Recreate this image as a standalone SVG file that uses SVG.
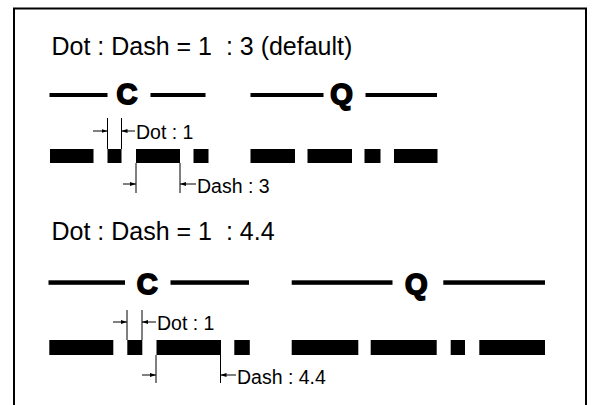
<svg xmlns="http://www.w3.org/2000/svg" width="593" height="405" viewBox="0 0 593 405">
<defs>
<style>
.title{font-family:"Liberation Sans",Arial,sans-serif;font-size:25px;fill:#000;white-space:pre}
.lbl{font-family:"Liberation Sans",Arial,sans-serif;font-size:19.5px;fill:#000;white-space:pre}
.big{font-family:"Liberation Sans",Arial,sans-serif;font-size:29px;font-weight:bold;fill:#000;stroke:#000;stroke-width:1.8;text-anchor:middle}
.ext{stroke:#000;stroke-width:1;fill:none}
.arr{stroke:#000;stroke-width:1;fill:none;marker-end:url(#ah)}
.seg{fill:#000}
</style>
<marker id="ah" viewBox="0 0 6 4" refX="6" refY="2" markerWidth="6" markerHeight="4" markerUnits="userSpaceOnUse" orient="auto">
<path d="M0,0 L6,2 L0,4 Z" fill="#000"/>
</marker>
</defs>
<rect x="0" y="0" width="593" height="405" fill="#fff"/>
<rect id="frame" x="14" y="8.5" width="572" height="420" fill="#fff" stroke="#000" stroke-width="2"/>

<g id="section1">
<text class="title" x="51.5" y="55">Dot : Dash = 1  : 3 (default)</text>
<g id="solid1">
<rect class="seg" x="49.5" y="93" width="58" height="4"/>
<text class="big" x="127" y="104">C</text>
<rect class="seg" x="150.5" y="93" width="55" height="4"/>
<rect class="seg" x="250.5" y="93" width="73" height="4"/>
<text class="big" x="341.5" y="104">Q</text>
<rect class="seg" x="365.5" y="93" width="71.5" height="4"/>
</g>
<g id="dashed1">
<rect class="seg" x="50" y="149" width="43.5" height="14"/>
<rect class="seg" x="107.5" y="149" width="14" height="14"/>
<rect class="seg" x="136" y="149" width="44" height="14"/>
<rect class="seg" x="193.5" y="149" width="15" height="14"/>
<rect class="seg" x="250.5" y="149" width="44.5" height="14"/>
<rect class="seg" x="307.5" y="149" width="44.5" height="14"/>
<rect class="seg" x="364.5" y="149" width="16" height="14"/>
<rect class="seg" x="394" y="149" width="43.5" height="14"/>
</g>
<g id="dim1">
<line class="ext" x1="107.5" y1="118" x2="107.5" y2="149"/>
<line class="ext" x1="121.5" y1="118" x2="121.5" y2="149"/>
<line class="arr" x1="93" y1="131" x2="107.5" y2="131"/>
<line class="arr" x1="135" y1="131" x2="121.5" y2="131"/>
<text class="lbl" x="136" y="138.5">Dot : 1</text>
<line class="ext" x1="136" y1="163" x2="136" y2="193"/>
<line class="ext" x1="180" y1="163" x2="180" y2="193"/>
<line class="arr" x1="123" y1="184" x2="136" y2="184"/>
<line class="arr" x1="196" y1="184" x2="180" y2="184"/>
<text class="lbl" x="197" y="192.5">Dash : 3</text>
</g>
</g>

<g id="section2">
<text class="title" x="51.5" y="240">Dot : Dash = 1  : 4.4</text>
<g id="solid2">
<rect class="seg" x="48.5" y="280.3" width="76.5" height="4.5"/>
<text class="big" x="147.3" y="294">C</text>
<rect class="seg" x="170.5" y="280.3" width="78.5" height="4.5"/>
<rect class="seg" x="291.7" y="280.3" width="100.8" height="4.5"/>
<text class="big" x="416.2" y="294">Q</text>
<rect class="seg" x="443.3" y="280.3" width="101.7" height="4.5"/>
</g>
<g id="dashed2">
<rect class="seg" x="49.3" y="340" width="64" height="15"/>
<rect class="seg" x="127.3" y="340" width="15" height="15"/>
<rect class="seg" x="156.5" y="340" width="64.5" height="15"/>
<rect class="seg" x="234.3" y="340" width="15.5" height="15"/>
<rect class="seg" x="291.7" y="340" width="66.6" height="15"/>
<rect class="seg" x="370.7" y="340" width="66" height="15"/>
<rect class="seg" x="450.7" y="340" width="14.3" height="15"/>
<rect class="seg" x="479.3" y="340" width="65.7" height="15"/>
</g>
<g id="dim2">
<line class="ext" x1="127" y1="310" x2="127" y2="340"/>
<line class="ext" x1="142" y1="310" x2="142" y2="340"/>
<line class="arr" x1="113" y1="322" x2="127" y2="322"/>
<line class="arr" x1="156" y1="322" x2="142" y2="322"/>
<text class="lbl" x="157" y="330">Dot : 1</text>
<line class="ext" x1="156" y1="355" x2="156" y2="383"/>
<line class="ext" x1="220.5" y1="355" x2="220.5" y2="383"/>
<line class="arr" x1="142" y1="375" x2="156" y2="375"/>
<line class="arr" x1="236" y1="375" x2="220.5" y2="375"/>
<text class="lbl" x="237" y="384">Dash : 4.4</text>
</g>
</g>
</svg>
